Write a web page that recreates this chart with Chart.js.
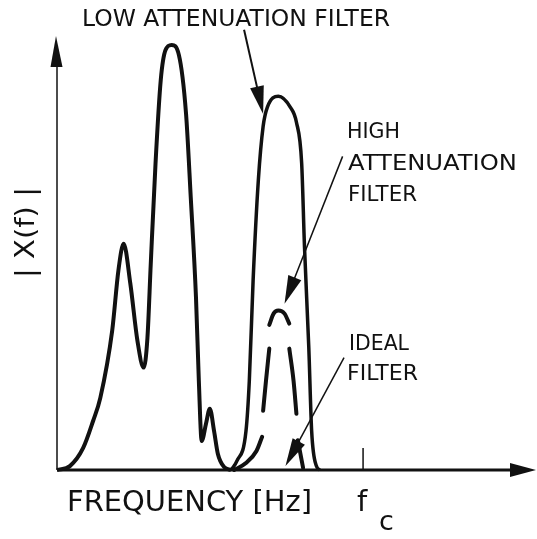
<!DOCTYPE html>
<html>
<head>
<meta charset="utf-8">
<script src="https://cdn.jsdelivr.net/npm/chart.js@4"></script>
<style>
  html, body { margin: 0; padding: 0; background: #fff; }
  #wrap { width: 537px; height: 539px; }
</style>
</head>
<body>
<div id="wrap"><canvas id="spectrumChart" width="537" height="539"></canvas></div>
<script>
// frequency runs 0..100 along the axis, |X(f)| 0..100 up the axis
const signalFreq = [0, 2.7, 5.5, 7.6, 9.1, 11.6, 12.9, 14.0, 15.4, 16.9, 18.2, 19.0, 19.7, 20.7, 21.8, 22.8, 24.1, 25.6, 27.1, 28.1, 29.2, 29.8, 30.4, 31.3, 32.1, 33.0, 33.8, 35.1, 36.6];
const signalMag  = [0, 0.9, 5.1, 11.4, 16.7, 32.3, 46.2, 52.4, 43.2, 29.9, 23.7, 30.6, 47.8, 71.0, 90.3, 97.2, 98.4, 96.1, 82.6, 63.1, 39.9, 20.6, 6.7, 10.7, 14.2, 9.0, 3.7, 0.7, 0];

const lowFreq = [36.6, 37.8, 39.7, 40.4, 41.2, 42.3, 43.3, 44.2, 46.5, 49.0, 50.3, 51.4, 52.0, 52.9, 53.5, 54.5, 55.2];
const lowMag  = [0, 2.1, 9.0, 20.6, 43.9, 67.1, 79.5, 84.0, 86.5, 84.0, 80.5, 71.0, 51.5, 28.3, 9.0, 0.9, 0];

// dashed curve, null = gap between dashes
const highFreq = [37.2, 39.7, 41.9, 43.1, 43.2, 43.3, 43.9, 44.6, 44.6, 44.6, 45.5, 46.5, 47.8, 48.8, 48.8, 48.8, 49.7, 50.3, 50.5, 50.6, 51.7];
const highMag  = [0, 1.6, 4.4, 7.7, null, 13.7, 20.6, 28.1, null, 33.6, 36.2, 36.9, 36.2, 33.9, null, 28.1, 20.6, 13.0, null, 6.9, 0.5];

const cutoffFreq = 64.3;

// label arrows [fromFreq, fromMag, toFreq, toMag]
const lowArrow = [39.3, 101.9, 43.3, 82.4];
const highArrow = [60.0, 72.6, 47.8, 38.5];
const idealArrow = [60.3, 26.0, 48.0, 0.9];

function pts(xs, ys) {
    return xs.map((x, i) => ({ x: x, y: ys[i] }));
}

function fitText(ctx, text, x, y, w, size) {
    ctx.font = size + 'px "DejaVu Sans"';
    const m = ctx.measureText(text).width;
    ctx.save();
    ctx.translate(x, y);
    ctx.scale(w / m, 1);
    ctx.fillText(text, 0, 0);
    ctx.restore();
}

function arrow(ctx, x1, y1, x2, y2, len, half, lw) {
    const a = Math.atan2(y2 - y1, x2 - x1);
    ctx.lineWidth = lw;
    ctx.beginPath();
    ctx.moveTo(x1, y1);
    ctx.lineTo(x2 - Math.cos(a) * len * 0.6, y2 - Math.sin(a) * len * 0.6);
    ctx.stroke();
    ctx.beginPath();
    ctx.moveTo(x2, y2);
    ctx.lineTo(x2 - Math.cos(a) * len - Math.sin(a) * half, y2 - Math.sin(a) * len + Math.cos(a) * half);
    ctx.lineTo(x2 - Math.cos(a) * len + Math.sin(a) * half, y2 - Math.sin(a) * len - Math.cos(a) * half);
    ctx.closePath();
    ctx.fill();
}

const sketchPlugin = {
    id: 'sketch',
    beforeDatasetsDraw(chart) {
        const ctx = chart.ctx;
        const xs = chart.scales.x, ys = chart.scales.y;
        const x0 = xs.getPixelForValue(0), y0 = ys.getPixelForValue(0);
        ctx.save();
        ctx.strokeStyle = '#111';
        ctx.fillStyle = '#111';
        // y axis
        ctx.lineWidth = 1.5;
        ctx.beginPath();
        ctx.moveTo(x0, y0);
        ctx.lineTo(x0, 60);
        ctx.stroke();
        ctx.beginPath();
        ctx.moveTo(x0 - 1, 36);
        ctx.lineTo(x0 - 6.5, 67);
        ctx.lineTo(x0 + 5.5, 67);
        ctx.closePath();
        ctx.fill();
        // x axis
        ctx.lineWidth = 3;
        ctx.beginPath();
        ctx.moveTo(x0, y0);
        ctx.lineTo(515, y0);
        ctx.stroke();
        ctx.beginPath();
        ctx.moveTo(536, y0);
        ctx.lineTo(510, y0 - 7);
        ctx.lineTo(510, y0 + 7);
        ctx.closePath();
        ctx.fill();
        // fc tick
        const fx = xs.getPixelForValue(cutoffFreq);
        ctx.lineWidth = 1.5;
        ctx.beginPath();
        ctx.moveTo(fx, y0);
        ctx.lineTo(fx, y0 - 22);
        ctx.stroke();
        ctx.restore();
    },
    afterDatasetsDraw(chart) {
        const ctx = chart.ctx;
        const xs = chart.scales.x, ys = chart.scales.y;
        ctx.save();
        ctx.strokeStyle = '#111';
        ctx.fillStyle = '#111';
        [[lowArrow, 2], [highArrow, 1.5], [idealArrow, 1.5]].forEach(([a, lw]) => {
            arrow(ctx, xs.getPixelForValue(a[0]), ys.getPixelForValue(a[1]),
                xs.getPixelForValue(a[2]), ys.getPixelForValue(a[3]), 28, 7, lw);
        });
        ctx.textBaseline = 'alphabetic';
        fitText(ctx, 'LOW ATTENUATION FILTER', 82, 26, 308, 23);
        fitText(ctx, 'HIGH', 347, 138, 53, 21);
        fitText(ctx, 'ATTENUATION', 348, 170, 169, 21);
        fitText(ctx, 'FILTER', 348, 201, 69, 21);
        fitText(ctx, 'IDEAL', 349, 350, 60, 21);
        fitText(ctx, 'FILTER', 347, 380, 71, 21);
        fitText(ctx, 'FREQUENCY [Hz]', 67, 511, 245, 29);
        ctx.font = '29px "DejaVu Sans"';
        ctx.fillText('f', 357, 511);
        ctx.font = '27px "DejaVu Sans"';
        ctx.fillText('c', 379, 530);
        // rotated y label
        ctx.save();
        ctx.translate(34, 278);
        ctx.rotate(-Math.PI / 2);
        fitText(ctx, '| X(f) |', 0, 0, 91, 26);
        ctx.restore();
        ctx.restore();
    }
};

const ctx = document.getElementById('spectrumChart');
new Chart(ctx, {
    type: 'line',
    data: {
        datasets: [
            {
                label: 'Signal',
                data: pts(signalFreq, signalMag),
                borderColor: '#111',
                borderWidth: 4,
                cubicInterpolationMode: 'monotone',
                pointRadius: 0,
                fill: false,
                clip: false
            },
            {
                label: 'Low attenuation filter',
                data: pts(lowFreq, lowMag),
                borderColor: '#111',
                borderWidth: 3.5,
                cubicInterpolationMode: 'monotone',
                pointRadius: 0,
                fill: false,
                clip: false
            },
            {
                label: 'High attenuation filter',
                data: pts(highFreq, highMag),
                borderColor: '#111',
                borderWidth: 4,
                borderCapStyle: 'round',
                cubicInterpolationMode: 'monotone',
                pointRadius: 0,
                spanGaps: false,
                fill: false,
                clip: false
            }
        ]
    },
    options: {
        responsive: false,
        animation: false,
        devicePixelRatio: 1,
        layout: { padding: { left: 57, right: 4, top: 38, bottom: 69 } },
        scales: {
            x: { type: 'linear', min: 0, max: 100, display: false },
            y: { type: 'linear', min: 0, max: 100, display: false }
        },
        plugins: {
            legend: { display: false },
            tooltip: { enabled: false }
        }
    },
    plugins: [sketchPlugin]
});
</script>
</body>
</html>
